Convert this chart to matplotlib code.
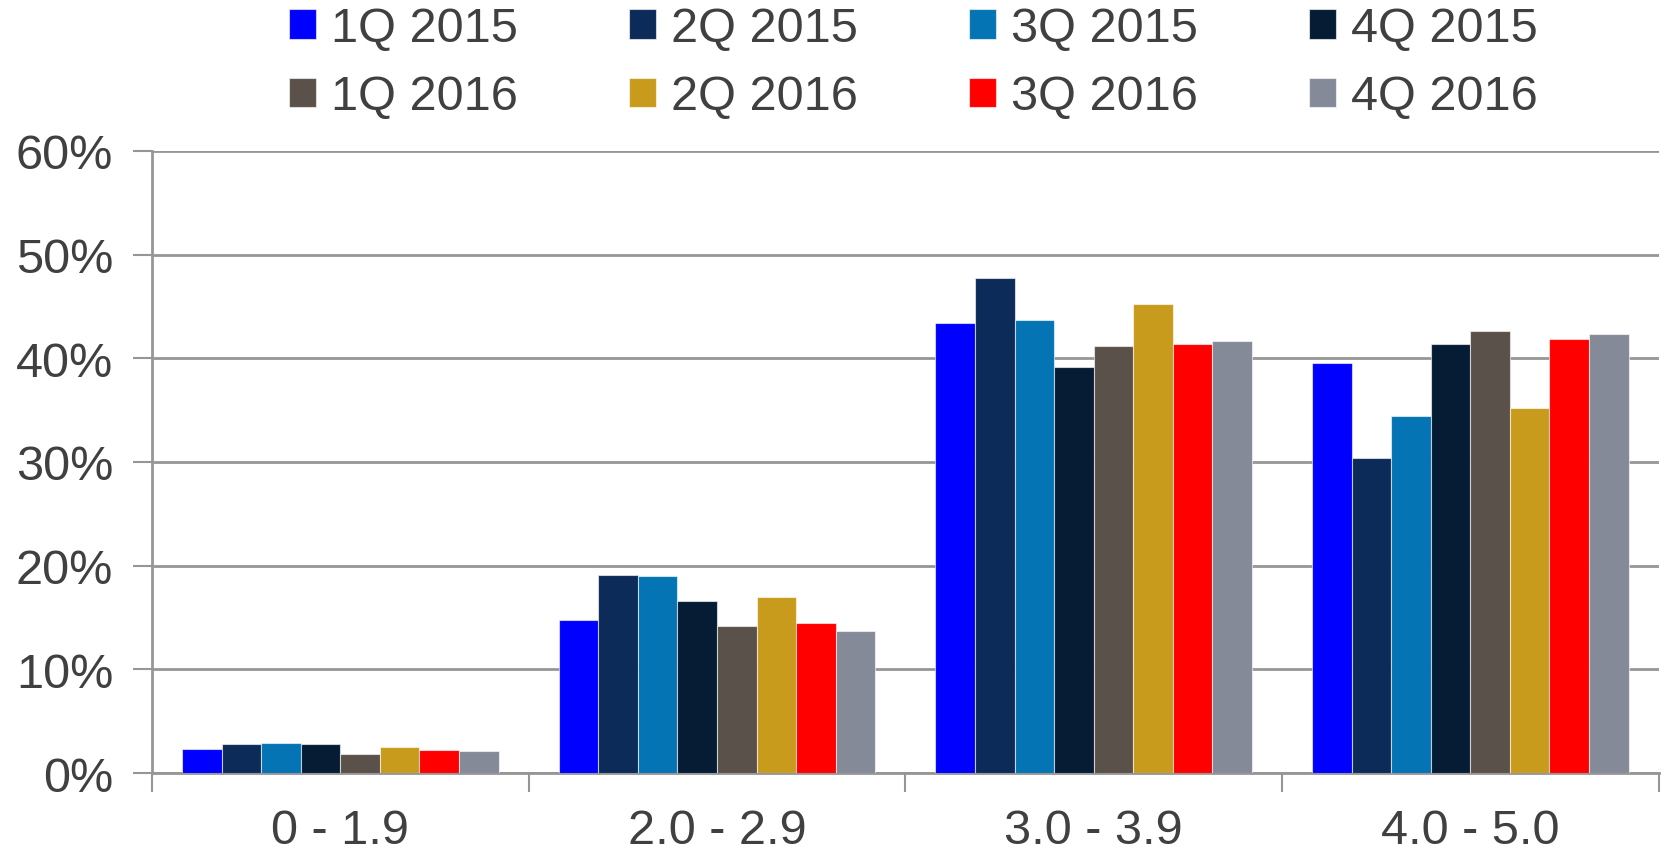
import numpy as np
import matplotlib
matplotlib.use("Agg")
import matplotlib.pyplot as plt

plt.rcParams['font.family'] = ['Liberation Sans', 'DejaVu Sans']

categories = ["0 - 1.9", "2.0 - 2.9", "3.0 - 3.9", "4.0 - 5.0"]
series = ["1Q 2015", "2Q 2015", "3Q 2015", "4Q 2015",
          "1Q 2016", "2Q 2016", "3Q 2016", "4Q 2016"]
colors = ["#0000FF", "#0D2B58", "#0474B4", "#061C35",
          "#5A514B", "#C89B1C", "#FF0000", "#858A99"]

# percent share per category, one list per quarter
q1_2015 = [2.3, 14.8, 43.4, 39.5]
q2_2015 = [2.8, 19.1, 47.7, 30.4]
q3_2015 = [2.9, 19.0, 43.7, 34.4]
q4_2015 = [2.8, 16.6, 39.2, 41.4]
q1_2016 = [1.8, 14.2, 41.2, 42.6]
q2_2016 = [2.5, 17.0, 45.2, 35.2]
q3_2016 = [2.2, 14.5, 41.4, 41.9]
q4_2016 = [2.1, 13.7, 41.7, 42.3]
values = [q1_2015, q2_2015, q3_2015, q4_2015, q1_2016, q2_2016, q3_2016, q4_2016]

text_col = "#404040"
grid_col = "#969696"
fs = 35

fig = plt.figure(figsize=(16.67, 8.53), dpi=100)
ax = fig.add_axes([0.0912, 0.0926, 0.9038, 0.7294])

x = np.arange(len(categories))
width = 0.84 / len(series)
bars = []
for i, (name, vals) in enumerate(zip(series, values)):
    offset = (i - (len(series) - 1) / 2) * width
    b = ax.bar(x + offset, vals, width, color=colors[i], label=name,
               edgecolor=(1, 1, 1, 0.6), linewidth=0.8, zorder=3)
    bars.append(b)

ax.set_xlim(-0.5, len(categories) - 0.5)
ax.set_ylim(0, 60)
ax.set_yticks(np.arange(0, 61, 10))
ax.set_yticklabels([f"{v}%" for v in range(0, 61, 10)])
ax.yaxis.grid(True, color=grid_col, linewidth=2, zorder=0)

# category labels at centers, tick marks at boundaries
ax.set_xticks(x)
ax.set_xticklabels(categories)
ax.set_xticks(np.arange(-0.5, len(categories)), minor=True)
ax.tick_params(axis="x", which="major", length=0, pad=25,
               labelsize=fs, labelcolor=text_col)
ax.tick_params(axis="x", which="minor", length=14, width=1.5, color=grid_col,
               direction="out")
ax.tick_params(axis="y", length=14, width=1.5, color=grid_col, pad=14,
               labelsize=fs, labelcolor=text_col)

for side in ["top", "right"]:
    ax.spines[side].set_visible(False)
for side in ["left", "bottom"]:
    ax.spines[side].set_color(grid_col)
    ax.spines[side].set_linewidth(2)

# legend fills column-wise, so reorder to read row-wise
order = [0, 4, 1, 5, 2, 6, 3, 7]
fig.legend([bars[i] for i in order], [series[i] for i in order],
           loc="upper center", bbox_to_anchor=(0.548, 1.043), ncol=4,
           frameon=False, fontsize=fs, labelcolor=text_col,
           handlelength=0.55, handleheight=0.55, handletextpad=0.3,
           columnspacing=2.3, labelspacing=0.48)

fig.savefig("out.png", dpi=100)
